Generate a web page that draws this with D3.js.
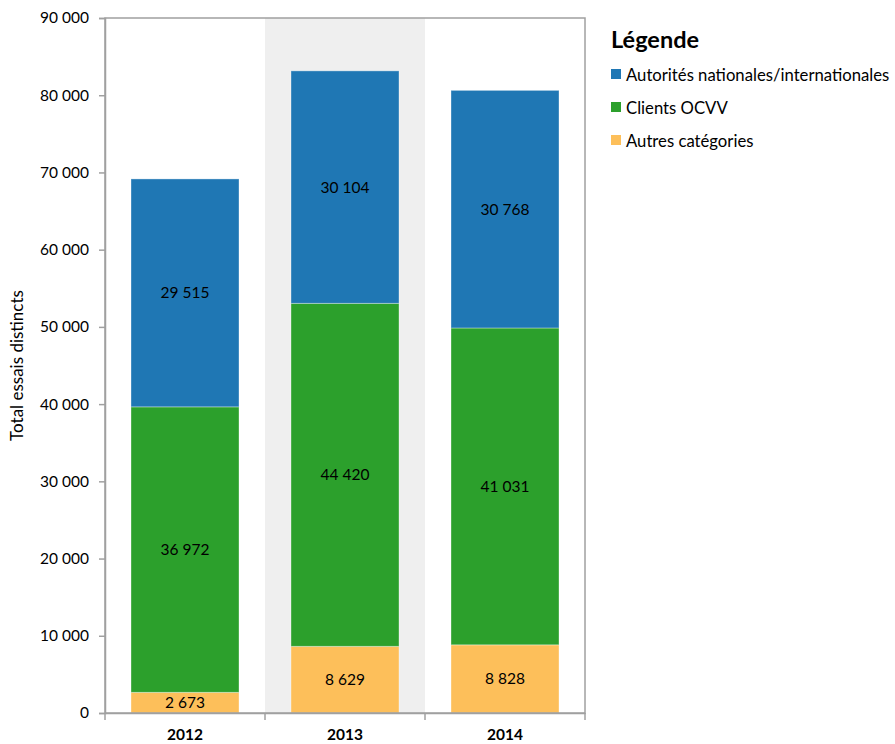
<!DOCTYPE html>
<html><head><meta charset="utf-8">
<script src="https://cdn.jsdelivr.net/npm/d3@7"></script>
<style>body{margin:0;background:#fff;} text{font-family:Lato,"Open Sans",sans-serif;}</style>
</head><body>
<svg id="c" width="895" height="744"></svg>
<script>
const years = ["2012","2013","2014"];
const seriesNames = ["Autres catégories","Clients OCVV","Autorités nationales/internationales"];
const autres = [2673, 8629, 8828];
const clients = [36972, 44420, 41031];
const autorites = [29515, 30104, 30768];
const colors = ["#fdbf5a","#2ca02c","#1f77b4"];
const yTicks = [0,10000,20000,30000,40000,50000,60000,70000,80000,90000];
const legendOrder = [2,1,0];

const rows = years.map((y,i)=>({year:y, a:autres[i], c:clients[i], n:autorites[i]}));
const keys = ["a","c","n"];
const stack = d3.stack().keys(keys)(rows);

const svg = d3.select("#c");
const L=105, R=585, T=18, B=713;
const x = d3.scaleBand().domain(years).range([L,R]).paddingInner(0).paddingOuter(0);
const y = d3.scaleLinear().domain([0,90000]).range([B,T]);
const fmt = v => d3.format(",")(v).replace(/,/g," ");

// highlight band 2013
svg.append("rect").attr("x",x("2013")).attr("y",T).attr("width",x.bandwidth()).attr("height",B-T).attr("fill","#efefef");

const barW = 108, off = (x.bandwidth()-barW)/2;
stack.forEach((s,si)=>{
  const g = svg.append("g");
  g.selectAll("rect").data(s).enter().append("rect")
    .attr("x",d=>x(d.data.year)+off).attr("width",barW)
    .attr("y",d=>y(d[1])).attr("height",d=>y(d[0])-y(d[1]))
    .attr("fill",colors[si]).attr("stroke","rgba(255,255,255,0.35)").attr("stroke-width",1);
  g.selectAll("text").data(s).enter().append("text")
    .attr("x",d=>x(d.data.year)+x.bandwidth()/2)
    .attr("y",d=>(y(d[0])+y(d[1]))/2)
    .attr("dy","0.35em").attr("text-anchor","middle")
    .attr("font-size",15.5).attr("fill","#000")
    .text(d=>fmt(d[1]-d[0]));
});

// frame
svg.append("rect").attr("x",L).attr("y",T).attr("width",R-L).attr("height",B-T)
  .attr("fill","none").attr("stroke","#a0a0a0").attr("stroke-width",1.5);

// y axis
const ya = svg.append("g").attr("transform",`translate(${L},0)`)
  .call(d3.axisLeft(y).tickValues(yTicks).tickFormat(fmt).tickSize(6).tickPadding(10));
ya.select(".domain").attr("stroke","#a0a0a0").attr("stroke-width",1.5);
ya.selectAll(".tick line").attr("stroke","#a0a0a0").attr("stroke-width",1.5);
ya.selectAll("text").attr("font-size",15.5).attr("fill","#000").style("font-family","Lato,'Open Sans',sans-serif");

// x axis
const xa = svg.append("g").attr("transform",`translate(0,${B})`)
  .call(d3.axisBottom(x).tickSize(0).tickPadding(16));
xa.select(".domain").attr("stroke","#a0a0a0").attr("stroke-width",1.5);
xa.selectAll("text").attr("font-size",15.5).attr("font-weight","bold").attr("fill","#000").style("font-family","Lato,'Open Sans',sans-serif");
const bounds = [L].concat(years.map(yy=>x(yy)+x.bandwidth()));
svg.append("g").selectAll("line").data(bounds).enter().append("line")
  .attr("x1",d=>d).attr("x2",d=>d).attr("y1",B).attr("y2",B+7)
  .attr("stroke","#a0a0a0").attr("stroke-width",1.5);

// y title
svg.append("text").attr("transform",`translate(23,${(T+B)/2}) rotate(-90)`)
  .attr("text-anchor","middle").attr("font-size",17).attr("fill","#000").text("Total essais distincts");

// legend
svg.append("text").attr("x",611).attr("y",48).attr("font-size",23.5).attr("font-weight","bold").attr("fill","#000").text("Légende");
legendOrder.forEach((si,i)=>{
  const yy = 75 + i*33;
  svg.append("rect").attr("x",611).attr("y",yy-6).attr("width",10).attr("height",10).attr("fill",colors[si]);
  svg.append("text").attr("x",626).attr("y",yy).attr("dy","0.35em").attr("font-size",16.7).attr("fill","#000").text(seriesNames[si]);
});
</script>
</body></html>
